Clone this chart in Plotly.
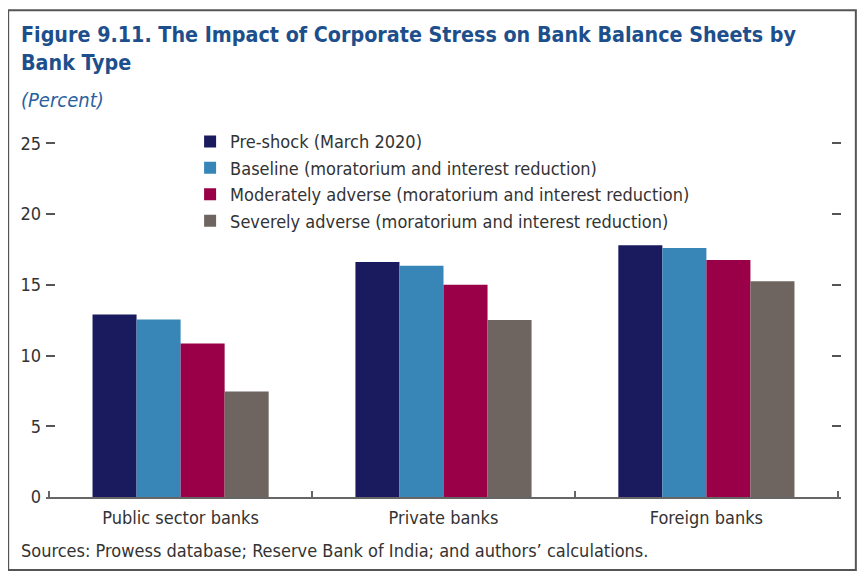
import plotly.graph_objects as go

categories = ["Public sector banks", "Private banks", "Foreign banks"]
series_names = [
    "Pre-shock (March 2020)",
    "Baseline (moratorium and interest reduction)",
    "Moderately adverse (moratorium and interest reduction)",
    "Severely adverse (moratorium and interest reduction)",
]
pre_shock = [12.9, 16.6, 17.8]
baseline = [12.55, 16.35, 17.6]
moderately_adverse = [10.85, 15.0, 16.75]
severely_adverse = [7.45, 12.5, 15.25]
y_ticks = [0, 5, 10, 15, 20, 25]

colors = ["#1a1a5e", "#3886b8", "#990047", "#6e6560"]
FONT = "DejaVu Sans Condensed, DejaVu Sans, sans-serif"

OFF = 8  # browser body margin
W, H = 865 - OFF, 580 - OFF

# reference geometry: y=0 at 497px, y=25 at 143px; x categories from 49px to 838px
Y0PX, Y25PX = 497, 143
XL, XR = 49, 838
YTOP = 25.3
XPAD = 0.012
ppu = (Y0PX - Y25PX) / 25.0
ppc = (XR - XL) / 3.0
PB = Y0PX
PT = Y0PX - YTOP * ppu
PL = XL - XPAD * ppc
PR = XR + XPAD * ppc
L, R, T, B = PL - OFF, W - (PR - OFF), PT - OFF, H - (PB - OFF)

fig = go.Figure()
for name, vals, c in zip(series_names,
                         [pre_shock, baseline, moderately_adverse, severely_adverse],
                         colors):
    fig.add_trace(go.Bar(x=categories, y=vals, name=name,
                         marker=dict(color=c, line=dict(width=0))))

def px_x(p):  # reference pixel -> paper
    return (p - PL) / (PR - PL)
def px_y(p):
    return (PB - p) / (PB - PT)

fig.update_layout(
    width=W, height=H,
    margin=dict(l=L, r=R, t=T, b=B),
    paper_bgcolor="white", plot_bgcolor="white",
    barmode="group", bargap=0.33, bargroupgap=0,
    font=dict(family=FONT, size=18, color="#333333"),
    showlegend=True,
    legend=dict(x=px_x(190), y=px_y(123), xanchor="left", yanchor="top",
                bgcolor="rgba(0,0,0,0)", font=dict(size=18, color="#333333"),
                tracegroupgap=0, itemwidth=30),
    xaxis=dict(range=[-0.5 - XPAD, 2.5 + XPAD], showline=True, linecolor="#666666", linewidth=1.5,
               ticks="inside", tickson="boundaries", ticklen=6, tickcolor="#666666",
               tickwidth=1.5, showgrid=False, zeroline=False, ticklabelstandoff=4,
               tickfont=dict(size=18, color="#333333")),
    yaxis=dict(range=[0, YTOP], tickvals=y_ticks, ticks="inside", ticklen=9,
               tickcolor="#555555", tickwidth=1.5, showline=False, mirror="ticks",
               showgrid=False, zeroline=False, ticklabelstandoff=4,
               tickfont=dict(size=18, color="#333333")),
    shapes=[dict(type="rect", xref="paper", yref="paper",
                 x0=px_x(8), x1=px_x(856), y0=px_y(570), y1=px_y(10),
                 line=dict(color="#555555", width=2), fillcolor="rgba(0,0,0,0)",
                 layer="below")],
    annotations=[
        dict(text="<b>Figure 9.11. The Impact of Corporate Stress on Bank Balance Sheets by<br>Bank Type</b>",
             xref="paper", yref="paper", x=px_x(19), y=px_y(20), xanchor="left", yanchor="top",
             align="left", showarrow=False,
             font=dict(family=FONT, size=21.3, color="#1d4f8c")),
        dict(text="<i>(Percent)</i>",
             xref="paper", yref="paper", x=px_x(19), y=px_y(86), xanchor="left", yanchor="top",
             align="left", showarrow=False,
             font=dict(family=FONT, size=20, color="#2b5f9e")),
        dict(text="Sources: Prowess database; Reserve Bank of India; and authors’ calculations.",
             xref="paper", yref="paper", x=px_x(19), y=px_y(538), xanchor="left", yanchor="top",
             align="left", showarrow=False,
             font=dict(family=FONT, size=18, color="#333333")),
    ],
)

fig.write_html("out.html")
